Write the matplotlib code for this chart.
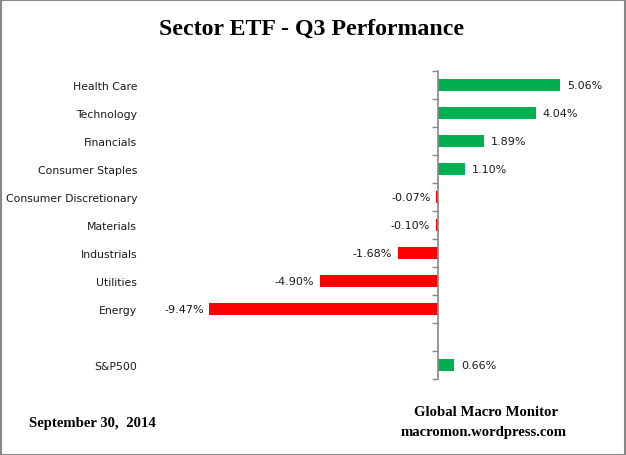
import matplotlib
matplotlib.use("Agg")
import matplotlib.pyplot as plt
from matplotlib.patches import Rectangle
import numpy as np

categories = ["Health Care", "Technology", "Financials", "Consumer Staples",
              "Consumer Discretionary", "Materials", "Industrials", "Utilities",
              "Energy", "", "S&P500"]
values = [5.06, 4.04, 1.89, 1.10, -0.07, -0.10, -1.68, -4.90, -9.47, None, 0.66]
value_labels = ["5.06%", "4.04%", "1.89%", "1.10%", "-0.07%", "-0.10%", "-1.68%",
                "-4.90%", "-9.47%", "", "0.66%"]

GREEN = "#00B050"
RED = "#FF0000"

W, H = 626, 456
fig = plt.figure(figsize=(W / 100, H / 100), dpi=100)
fig.patch.set_facecolor("white")

x0, x1 = 199, 600
ytop, ybot = 72, 380
ax = fig.add_axes([x0 / W, 1 - ybot / H, (x1 - x0) / W, (ybot - ytop) / H])
ax.set_xlim(-9.9, 6.7)
ax.set_ylim(len(categories) - 0.5, -0.5)

pos = np.arange(len(categories))
for p, v in zip(pos, values):
    if v is None:
        continue
    ax.barh(p, v, height=0.4, color=GREEN if v >= 0 else RED, zorder=2)

for p, v, lab in zip(pos, values, value_labels):
    if v is None:
        continue
    if v >= 0:
        ax.annotate(lab, (v, p), xytext=(5, 0), textcoords="offset points",
                    ha="left", va="center", fontsize=8, color="#1a1a1a")
    else:
        ax.annotate(lab, (v, p), xytext=(-4, 0), textcoords="offset points",
                    ha="right", va="center", fontsize=8, color="#1a1a1a")

for s in ["top", "bottom", "left"]:
    ax.spines[s].set_visible(False)
ax.spines["right"].set_position(("data", 0))
ax.spines["right"].set_color("#888888")
ax.spines["right"].set_linewidth(1.2)
ax.spines["right"].set_zorder(3)

ax.set_xticks([])
ax.set_yticks(pos)
ax.set_yticklabels(categories, fontsize=7.8, color="#1a1a1a")
ax.set_yticks(np.arange(len(categories) + 1) - 0.5, minor=True)
ax.tick_params(axis="y", which="major", left=False, right=False, length=0, pad=44.5)
ax.tick_params(axis="y", which="minor", left=False, right=True, direction="in",
               length=4, width=1.0, color="#888888")

fig.text(312 / W, 1 - 29 / H, "Sector ETF - Q3 Performance", ha="center", va="center",
         fontsize=17.2, fontweight="bold", family="Liberation Serif")
fig.text(29 / W, 1 - 423 / H, "September 30,  2014", ha="left", va="center",
         fontsize=10.6, fontweight="bold", family="Liberation Serif")
fig.text(486 / W, 1 - 413 / H, "Global Macro Monitor", ha="center", va="center",
         fontsize=10.6, fontweight="bold", family="Liberation Serif")
fig.text(484 / W, 1 - 433 / H, "macromon.wordpress.com", ha="center", va="center",
         fontsize=10.6, fontweight="bold", family="Liberation Serif")

fig.add_artist(Rectangle((0.5 / W, 0.5 / H), (W - 1.5) / W, (H - 1.5) / H,
                         transform=fig.transFigure, fill=False,
                         edgecolor="#888888", linewidth=1.5))

fig.savefig("out.png", dpi=100)
